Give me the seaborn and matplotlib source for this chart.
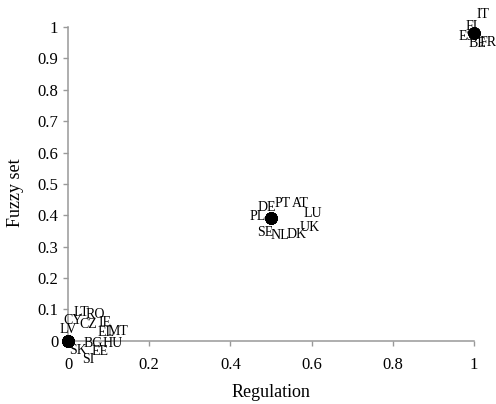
import matplotlib
matplotlib.use("Agg")
import matplotlib.pyplot as plt
import seaborn as sns
import pandas as pd

# ---- data ----
countries = ["LT", "RO", "CY", "CZ", "IE", "LV", "EL", "MT", "BG", "HU", "SK", "EE", "SI",
             "DE", "PT", "AT", "PL", "LU", "UK", "SE", "NL", "DK",
             "IT", "FI", "ES", "BE", "FR"]
regulation = [0, 0, 0, 0, 0, 0, 0, 0, 0, 0, 0, 0, 0,
              0.5, 0.5, 0.5, 0.5, 0.5, 0.5, 0.5, 0.5, 0.5,
              1, 1, 1, 1, 1]
fuzzy = [0, 0, 0, 0, 0, 0, 0, 0, 0, 0, 0, 0, 0,
         0.39, 0.39, 0.39, 0.39, 0.39, 0.39, 0.39, 0.39, 0.39,
         0.98, 0.98, 0.98, 0.98, 0.98]
x_ticks = [0, 0.2, 0.4, 0.6, 0.8, 1]
x_tick_labels = ["0", "0.2", "0.4", "0.6", "0.8", "1"]
y_ticks = [0, 0.1, 0.2, 0.3, 0.4, 0.5, 0.6, 0.7, 0.8, 0.9, 1]
y_tick_labels = ["0", "0.1", "0.2", "0.3", "0.4", "0.5", "0.6", "0.7", "0.8", "0.9", "1"]

# label placement (pixel offsets from the point), layout only
label_offsets = {
    "LT": (13, 28), "RO": (27, 26), "CY": (5, 20), "CZ": (20, 16), "IE": (37, 18),
    "LV": (0, 11), "EL": (38, 8), "MT": (50, 9), "BG": (25, -3), "HU": (45, -3),
    "SK": (10, -10), "EE": (32, -11), "SI": (20, -19),
    "DE": (-4, 11), "PT": (12, 15), "AT": (29, 15), "PL": (-13, 2), "LU": (42, 5),
    "UK": (39, -9), "SE": (-6, -14), "NL": (9, -17), "DK": (26, -16),
    "IT": (9, 19), "FI": (-2, 7), "ES": (-7, -3), "BE": (3, -10), "FR": (14, -9),
}

df = pd.DataFrame({"country": countries, "Regulation": regulation, "Fuzzy set": fuzzy})

sns.set_style("ticks")
plt.rcParams["font.family"] = ["Liberation Serif", "DejaVu Serif"]

fig = plt.figure(figsize=(4.96, 4.04), dpi=100)
ax = fig.add_axes([0.0962, 0.0941, 0.9004, 0.8856])

sns.scatterplot(data=df, x="Regulation", y="Fuzzy set", ax=ax, color="black",
                s=80, edgecolor="black", linewidth=0, zorder=3)

for c, xv, yv in zip(countries, regulation, fuzzy):
    dx, dy = label_offsets[c]
    ax.annotate(c, (xv, yv), xytext=(dx, dy), textcoords="offset pixels",
                ha="center", va="center", fontsize=10, color="black",
                annotation_clip=False, zorder=4)

ax.set_xlim(-0.05, 1.05)
ax.set_ylim(-0.08, 1.06)
ax.set_xticks(x_ticks)
ax.set_xticklabels(x_tick_labels)
ax.set_yticks(y_ticks)
ax.set_yticklabels(y_tick_labels)

gray = "#999999"
for side in ["top", "right"]:
    ax.spines[side].set_visible(False)
ax.spines["bottom"].set_position(("data", 0))
ax.spines["left"].set_position(("data", 0))
ax.spines["bottom"].set_bounds(0, 1)
ax.spines["left"].set_bounds(0, 1)
for side in ["bottom", "left"]:
    ax.spines[side].set_color(gray)
    ax.spines[side].set_linewidth(1.1)
ax.tick_params(axis="both", colors=gray, labelcolor="black", labelsize=12,
               direction="out", length=3.6, width=1.0)
ax.tick_params(axis="x", pad=8)
ax.tick_params(axis="y", pad=3.5)

ax.set_xlabel("Regulation", fontsize=13, color="black", labelpad=8)
ax.set_ylabel("Fuzzy set", fontsize=13, color="black")
ax.yaxis.label.set_va("center")
ax.yaxis.set_label_coords(-0.073, 0.4835)

fig.savefig("out.png", dpi=100)
